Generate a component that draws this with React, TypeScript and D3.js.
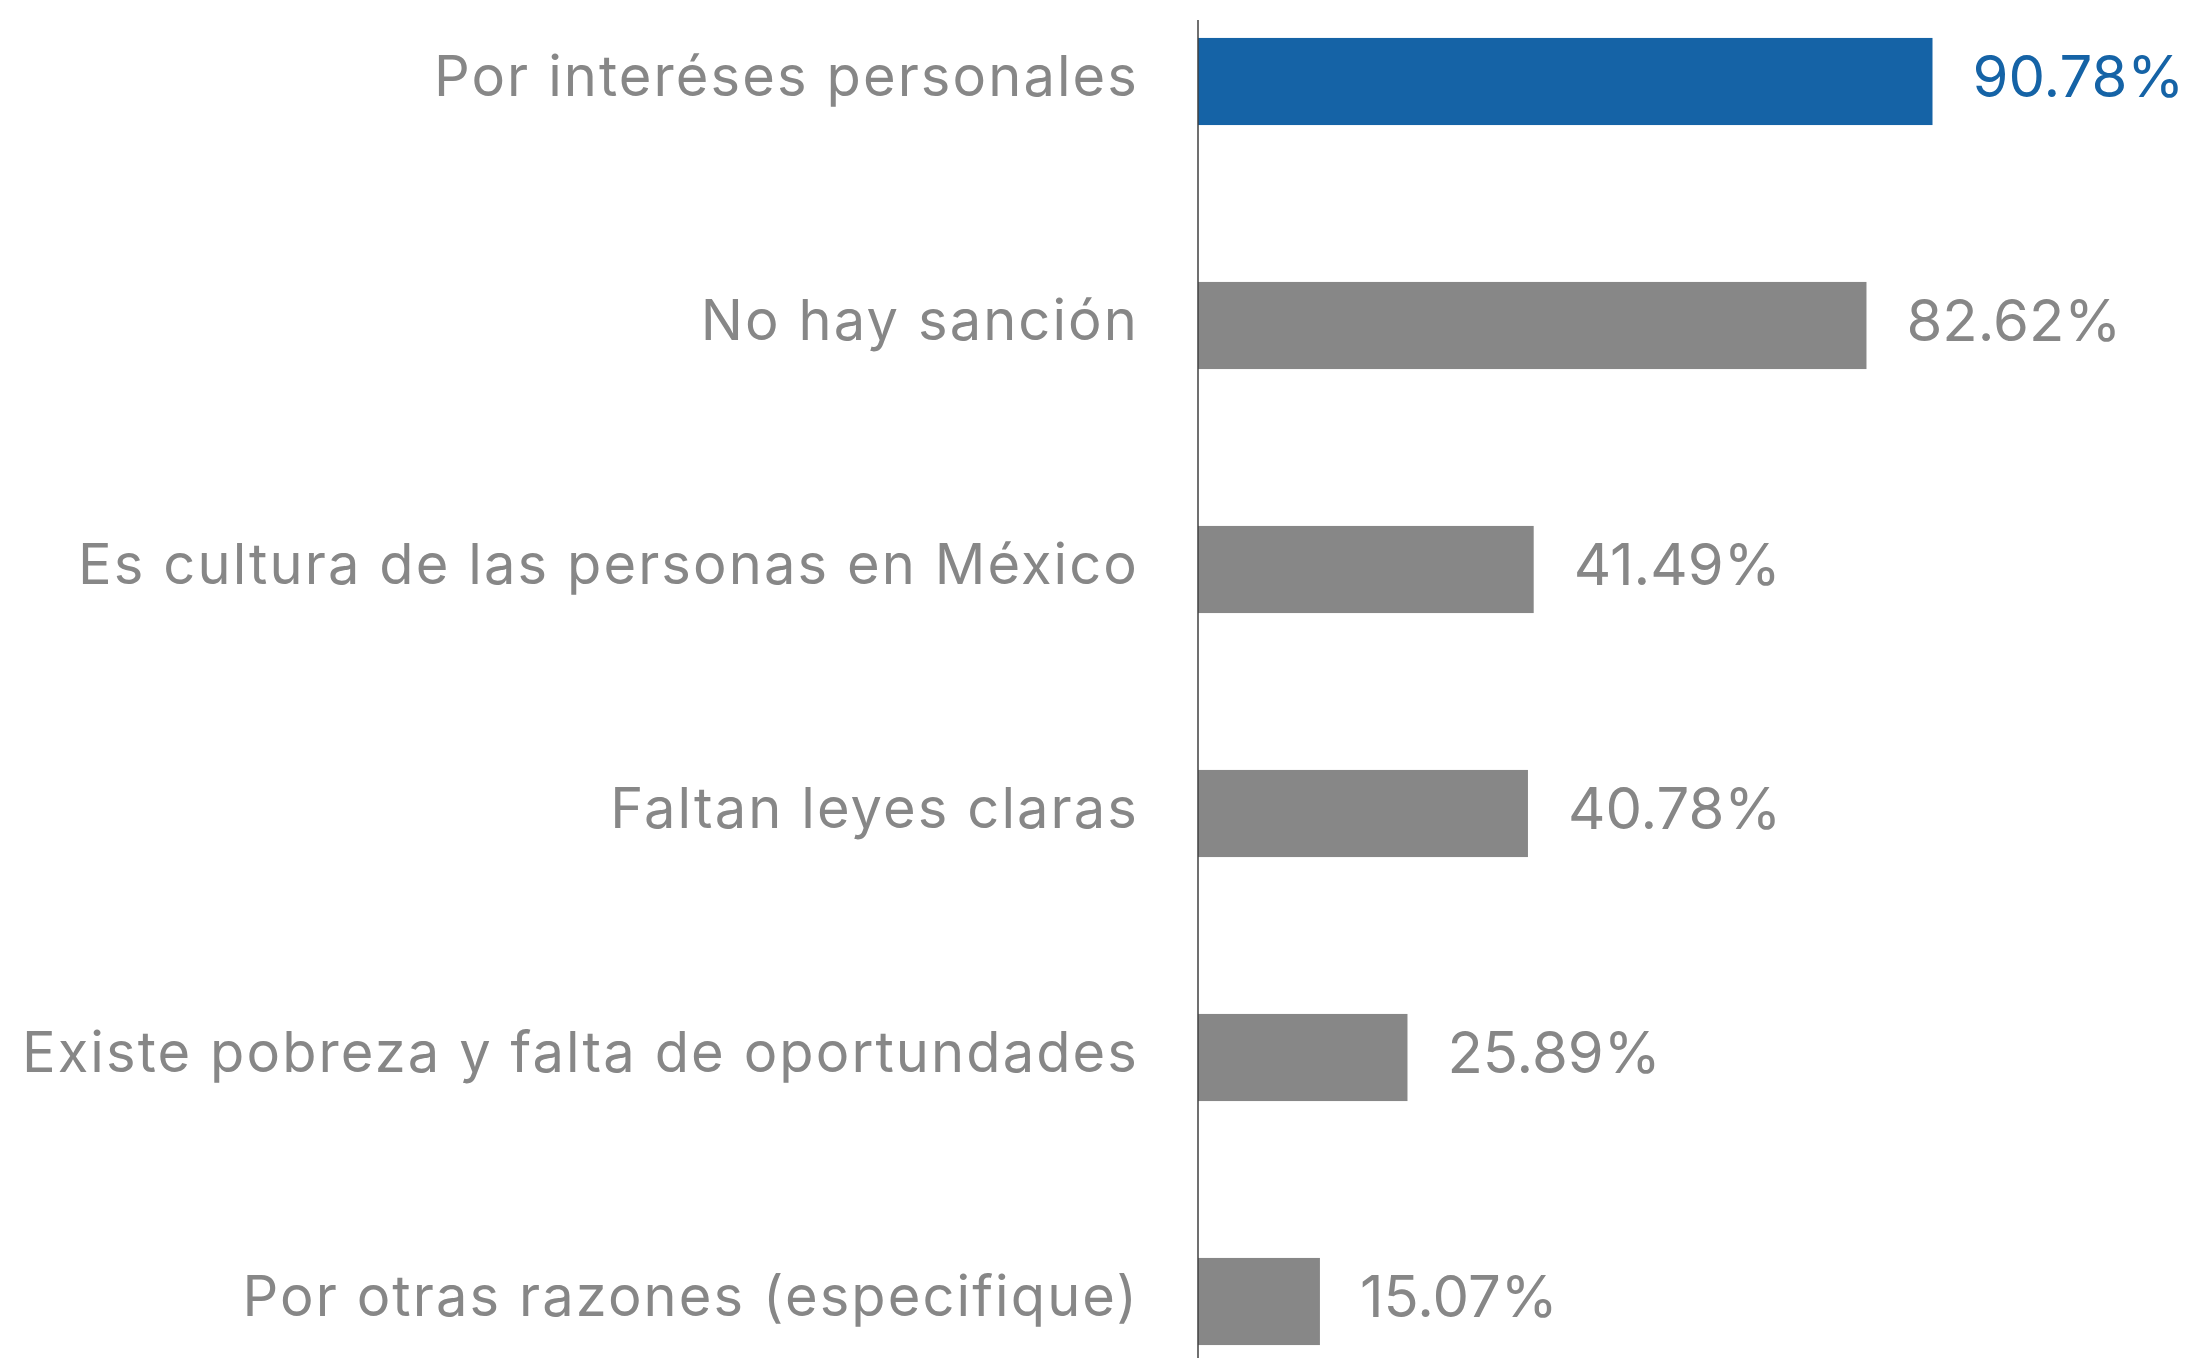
import React from "react";
import * as d3 from "d3";

const categories = [
  "Por interéses personales",
  "No hay sanción",
  "Es cultura de las personas en México",
  "Faltan leyes claras",
  "Existe pobreza y falta de oportundades",
  "Por otras razones (especifique)",
];
const values = [90.78, 82.62, 41.49, 40.78, 25.89, 15.07];
const valueLabels = ["90.78%", "82.62%", "41.49%", "40.78%", "25.89%", "15.07%"];

const W = 2199;
const H = 1358;
const axisX = 1198;
const BLUE = "#1563A6";
const GRAY = "#878787";
const FONT = "Inter, 'Noto Sans', sans-serif";

export default function App() {
  const x = d3.scaleLinear().domain([0, 100]).range([axisX, axisX + 809.1]);
  const y = d3
    .scaleBand<string>()
    .domain(categories)
    .range([-40.5, 1423.5])
    .paddingInner(0.643)
    .paddingOuter(0.3215);
  const bw = y.bandwidth();

  return (
    <svg
      width={W}
      height={H}
      style={{ position: "absolute", left: 0, top: 0, display: "block", background: "#fff" }}
    >
      {categories.map((c, i) => {
        const yy = y(c)!;
        const cy = yy + bw / 2;
        const color = i === 0 ? BLUE : GRAY;
        return (
          <g key={c}>
            <rect x={x(0)} y={yy} width={x(values[i]) - x(0)} height={bw} fill={color} />
            <text
              x={axisX - 59}
              y={cy}
              dy={-6}
              textAnchor="end"
              dominantBaseline="central"
              fontFamily={FONT}
              fontSize={56}
              fill={GRAY}
              letterSpacing={2.1}
            >
              {c}
            </text>
            <text
              x={x(values[i]) + 40}
              y={cy}
              dy={-6}
              dominantBaseline="central"
              fontFamily={FONT}
              fontSize={58}
              fill={color}
            >
              {valueLabels[i]}
            </text>
          </g>
        );
      })}
      <line x1={axisX} x2={axisX} y1={20} y2={H} stroke="#404040" strokeWidth={1.5} />
    </svg>
  );
}
